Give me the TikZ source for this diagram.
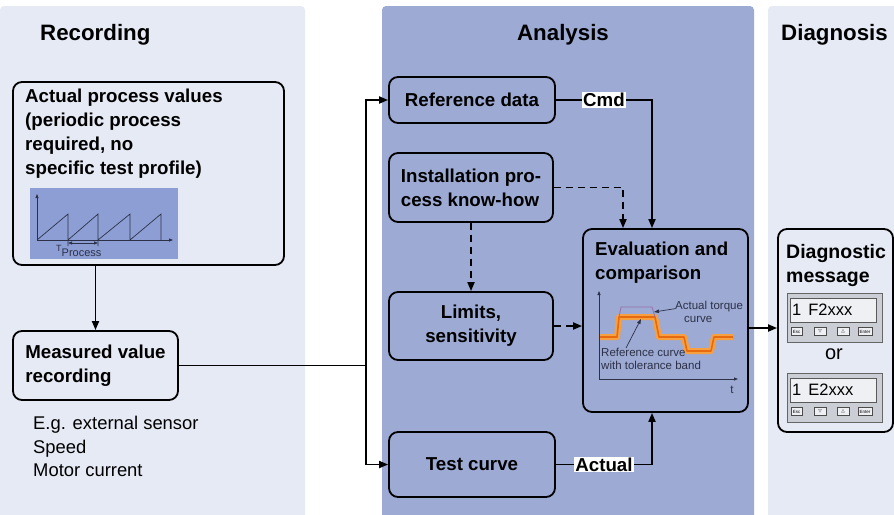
\documentclass[tikz,border=0pt]{standalone}
\usepackage{fontspec}
\setmainfont{Liberation Sans}
\newfontfamily\symfont{DejaVu Sans}
\usepackage{tikz}
\usetikzlibrary{arrows.meta}

\definecolor{recbg}{HTML}{E6EAF4}
\definecolor{anabg}{HTML}{9DAAD3}
\definecolor{chartbg}{HTML}{8C9ED3}
\definecolor{axis}{HTML}{2C3147}
\definecolor{torque}{HTML}{F7A040}
\definecolor{torquedark}{HTML}{E86A10}
\definecolor{band}{HTML}{9A6FA8}
\definecolor{dspframe}{HTML}{CBCED5}
\definecolor{dspscreen}{HTML}{EEF0F4}

\newcommand{\boxfont}{\fontsize{18.7}{24}\selectfont\bfseries}

\tikzset{
	box/.style={draw, line width=1.8pt, rounded corners=9pt, inner sep=0pt, font=\boxfont},
	head/.style={inner sep=0pt, font=\fontsize{22.3}{26}\selectfont\bfseries},
	boxtext/.style={inner sep=0pt, align=left, font=\boxfont},
	plaintext/.style={inner sep=0pt, align=left, font=\fontsize{18.4}{23.5}\selectfont},
	conn/.style={line width=1.8pt, -{Triangle[length=9pt,width=7pt]}},
	dashconn/.style={conn, dash pattern=on 7pt off 5pt},
	tag/.style={fill=white, inner sep=1pt, font=\boxfont},
	note/.style={inner sep=0pt, align=left, text=axis, font=\fontsize{11.5}{12.5}\selectfont},
	axisarr/.style={line width=0.8pt, draw=axis, -{Triangle[length=4pt,width=3pt]}},
	noteline/.style={line width=0.7pt, draw=axis, -{Triangle[length=5pt,width=3.5pt]}},
	dsp/.style={draw=gray!80!black, fill=dspframe, line width=0.8pt, inner sep=0pt},
	scr/.style={draw=gray!70!black, fill=dspscreen, line width=0.8pt, inner sep=0pt},
	btn/.style={draw=gray!60!black, fill=dspscreen, line width=0.5pt, inner sep=0pt, minimum height=8pt, font=\fontsize{4.5}{4.5}\selectfont},
}

\begin{document}
\begin{tikzpicture}[x=1pt,y=-1pt]
	\useasboundingbox (0,0) rectangle (894,514);
	\clip (0,0) rectangle (894,514);
	% panels
	\fill[recbg, rounded corners=4pt] (0,6) rectangle (305,530);
	\fill[anabg, rounded corners=4pt] (382,6) rectangle (754,530);
	\fill[recbg, rounded corners=4pt] (768,6) rectangle (910,530);
	\node[head, anchor=base west] (hrec) at (40,40) {Recording};
	\node[head, anchor=base] (hana) at (563,40) {Analysis};
	\node[head, anchor=base west] (hdia) at (781,40) {Diagnosis};

	% recording
	\node[box, fill=recbg, minimum width=271pt, minimum height=183pt] (apv) at (148.5,173.5) {};
	\node[boxtext, anchor=north west] (apvtext) at (25,89) {Actual process values\\(periodic process\\required, no\\specific test profile)};
	\fill[chartbg] (30,188) rectangle (178,259);
	\draw[axisarr] (37,240) -- (37,194);
	\draw[axisarr] (37,240) -- (173,240);
	\draw[line width=0.7pt, draw=axis] (37,240) -- (68,214) -- (68,246) (68,240) -- (98,214) -- (98,246) (98,240) -- (130,214) -- (130,240) -- (161,214) -- (161,240);
	\draw[line width=0.7pt, draw=axis, {Triangle[length=4pt,width=3pt]}-{Triangle[length=4pt,width=3pt]}] (68,243) -- (98,243);
	\node[note, anchor=west] (tproc) at (56,251) {\fontsize{9}{9}\selectfont T\textsubscript{\fontsize{11}{11}\selectfont Process}};
	\node[box, fill=recbg, minimum width=165pt, minimum height=69pt, align=left] (mvr) at (95.5,365.5) {Measured value\\recording};
	\node[plaintext, anchor=north west] (sens) at (33,416) {E.g. external sensor\\Speed\\Motor current};
	\draw[conn] (apv.south -| mvr.north) -- (mvr.north);

	% analysis
	\node[box, fill=anabg, minimum width=166pt, minimum height=46pt] (ref) at (472,100) {Reference data};
	\node[box, fill=anabg, minimum width=164pt, minimum height=69pt, align=left] (ins) at (471,187.5) {Installation pro-\\cess know-how};
	\node[box, fill=anabg, minimum width=164pt, minimum height=68pt, align=center] (lim) at (471,326) {Limits,\\sensitivity};
	\node[box, fill=anabg, minimum width=166pt, minimum height=65pt] (test) at (472,464.5) {Test curve};
	\node[box, fill=anabg, minimum width=165pt, minimum height=183pt] (eva) at (665.5,320.5) {};
	\node[boxtext, anchor=north west] (evatext) at (595,242) {Evaluation and\\comparison};

	\draw[axisarr] (599,379) -- (599,291);
	\draw[axisarr] (599,379) -- (738,379);
	\node[note, anchor=base] (tlbl) at (732,393) {t};
	\draw[torque, line width=6pt, line join=round] (600,337) -- (617,337) -- (619,317) -- (655,317) -- (659,337) -- (684,337) -- (687,351) -- (711,351) -- (714,337) -- (733,337);
	\draw[torquedark, line width=1.6pt, line join=round] (600,337) -- (617,337) -- (619,317) -- (655,317) -- (659,337) -- (684,337) -- (687,351) -- (711,351) -- (714,337) -- (733,337);
	\draw[band, line width=0.8pt] (619,317) -- (621,307) -- (652,307) -- (655,317);
	\node[note, anchor=north west] (actnote) at (675,301) {Actual torque\\\hspace*{9pt}curve};
	\node[note, anchor=north west] (refnote) at (601,348) {Reference curve\\with tolerance band};
	\coordinate (peak) at (654,312);
	\coordinate (bandpt) at (641,319);
	\draw[noteline] ([yshift=3pt]actnote.west) -- (peak);
	\draw[noteline] ([xshift=25pt]refnote.north west) -- (bandpt);

	\coordinate (split) at (366,365.5);
	\draw[line width=1.8pt] (mvr.east) -- (split);
	\draw[conn] (split) |- (ref.west);
	\draw[conn] (split) |- (test.west);
	\draw[conn] (ref.east) -| node[tag, pos=0.25] (cmd) {Cmd} ([xshift=-13.5pt]eva.north);
	\draw[dashconn] (ins.east) -| ([xshift=-42.5pt]eva.north);
	\draw[dashconn] (ins.south) -- (lim.north);
	\draw[dashconn] (lim.east) -- (lim.east -| eva.west);
	\draw[conn] (test.east) -| node[tag, pos=0.25] (act) {Actual} ([xshift=-13.5pt]eva.south);

	% diagnosis
	\node[box, fill=recbg, minimum width=115pt, minimum height=203pt] (diag) at (835.5,330.5) {};
	\node[boxtext, anchor=north west, font=\fontsize{19.5}{24}\selectfont\bfseries] (diagtext) at (786,244) {Diagnostic\\message};
	\draw[conn] ([yshift=-7.5pt]eva.east) -- ([yshift=-7.5pt]eva.east -| diag.west);
	\foreach \dy/\msg/\nm in {0/F2xxx/f, 80/E2xxx/e} {
		\node[dsp, minimum width=95pt, minimum height=49pt] (dsp\nm) at (834.5,317.5+\dy) {};
		\node[scr, minimum width=86pt, minimum height=24pt] (scr\nm) at (833,310+\dy) {};
		\node[anchor=west, inner sep=0pt, font=\fontsize{16.5}{16.5}\selectfont] (msg\nm) at (792,310+\dy) {1\hspace{7pt}\msg};
		\foreach \bx/\bw/\bt [count=\i] in {796.5/11/Esc, 820/12/{\symfont ▽}, 843/12/{\symfont △}, 865/14/Enter}
			\node[btn, minimum width=\bw pt] (btn\nm\i) at (\bx,331.5+\dy) {\bt};
	}
	\node[inner sep=0pt, font=\fontsize{20}{20}\selectfont] (or) at (834,354) {or};
\end{tikzpicture}
\end{document}
